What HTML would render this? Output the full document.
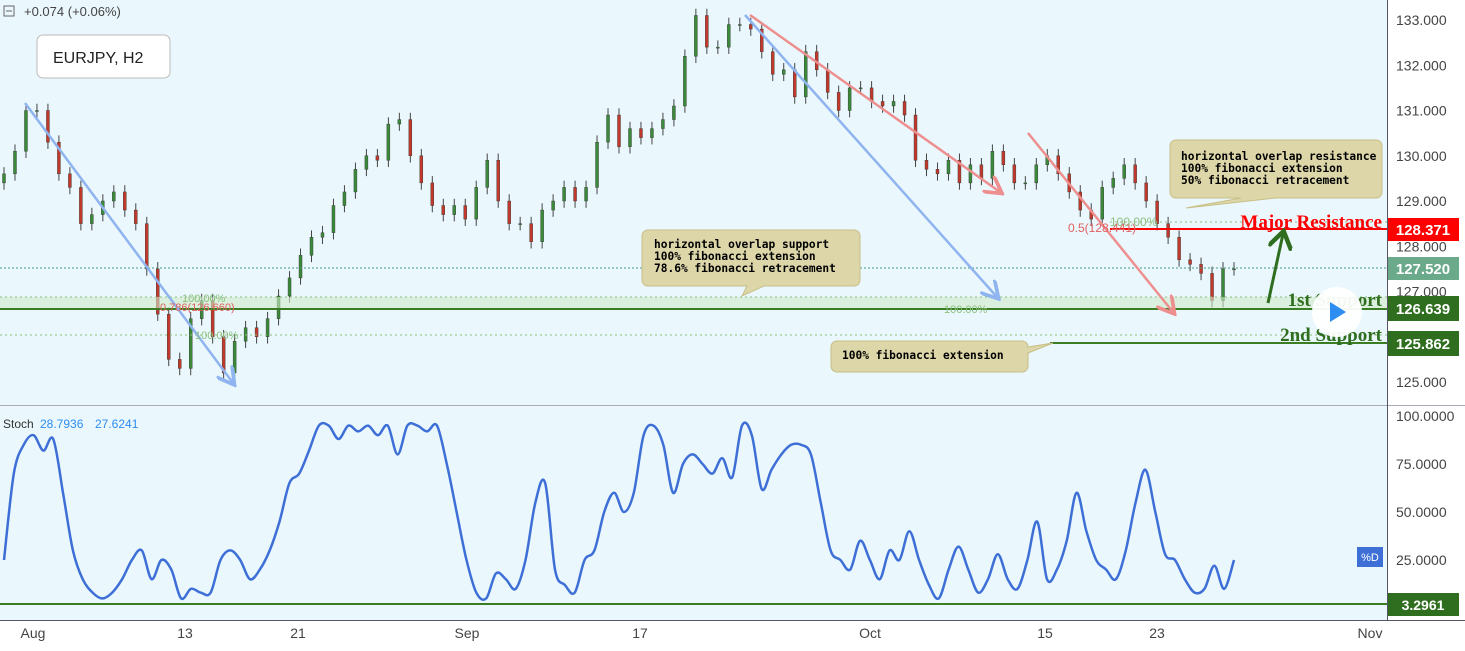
<!DOCTYPE html>
<html><head><meta charset="utf-8"><style>
body{margin:0;background:#fff;font-family:"Liberation Sans",sans-serif}
svg text{font-family:"Liberation Sans",sans-serif}
svg text.serif{font-family:"Liberation Serif",serif}
svg text.mono{font-family:"DejaVu Sans Mono",monospace}
</style></head><body>
<svg id="c" width="1465" height="646" xmlns="http://www.w3.org/2000/svg">
<rect x="0" y="0" width="1387" height="405" fill="#eaf7fd"/>
<rect x="0" y="406" width="1387" height="214" fill="#eaf7fd"/>
<rect x="1387" y="0" width="78" height="620" fill="#fff"/>
<line x1="0" y1="405.5" x2="1465" y2="405.5" stroke="#aab" />
<line x1="1387.5" y1="0" x2="1387.5" y2="620" stroke="#556"/>
<line x1="0" y1="620.5" x2="1465" y2="620.5" stroke="#556"/>
<g id="price"></g>
<g id="stoch"></g>
</svg>
<script>
const closes=[129.6,130.1,131.0,131.0,130.3,129.6,129.3,128.5,128.7,129.0,129.2,128.8,128.5,127.5,126.5,125.5,125.3,126.4,126.8,126.0,125.2,125.9,126.2,126.0,126.4,126.9,127.3,127.8,128.2,128.3,128.9,129.2,129.7,130.0,129.9,130.7,130.8,130.0,129.4,128.9,128.7,128.9,128.6,129.3,129.9,129.0,128.5,128.5,128.1,128.8,129.0,129.3,129.0,129.3,130.3,130.9,130.2,130.6,130.4,130.6,130.8,131.1,132.2,133.1,132.4,132.4,132.9,132.9,132.8,132.3,131.8,131.9,131.3,132.3,131.9,131.4,131.0,131.5,131.5,131.2,131.1,131.2,130.9,129.9,129.7,129.6,129.9,129.4,129.8,129.5,130.1,129.8,129.4,129.4,129.8,130.0,129.6,129.2,128.8,128.6,129.3,129.5,129.8,129.4,129.0,128.5,128.2,127.7,127.6,127.4,126.8,127.5,127.5];
const stochD=[25,70,85,90,82,88,60,30,15,8,5,8,15,25,30,15,25,20,5,10,8,8,25,30,25,15,20,30,45,65,70,82,95,95,88,95,92,95,90,95,80,95,95,92,95,75,50,25,8,5,18,15,10,25,55,65,20,12,8,25,30,50,60,50,60,90,95,85,60,75,80,75,70,78,68,95,90,62,72,80,85,85,80,55,30,25,20,35,25,15,30,25,40,25,12,5,20,32,20,8,15,28,15,10,25,45,15,20,35,60,40,25,20,15,30,55,72,50,28,25,15,8,10,22,10,25];
const priceTicks=[133,132,131,130,129,128,127,125];
const stochTicks=[100,75,50,25];
const dateLabels=["Aug","13","21","Sep","17","Oct","15","23","Nov"];
const datePos=[33,185,298,467,640,870,1045,1157,1370];
const NS="http://www.w3.org/2000/svg";
function py(v){return 20+(133-v)*45.25;}
function sy(v){return 608-v*1.92;}
function mk(tag,at,parent,txt){const e=document.createElementNS(NS,tag);for(const k in at)e.setAttribute(k,at[k]);if(txt!==undefined)e.textContent=txt;parent.appendChild(e);return e;}
const svg=document.getElementById('c'),P=document.getElementById('price'),S=document.getElementById('stoch');
const x0=4,x1=1234;
function px(i,n){return x0+i*(x1-x0)/(n-1);}
priceTicks.forEach(t=>{const e=mk('text',{x:1396,y:py(t)+5,'font-size':14,fill:'#444'},svg,t.toFixed(3));

});
stochTicks.forEach(t=>{const e=mk('text',{x:1396,y:sy(t)+5,'font-size':14,fill:'#444'},svg,t.toFixed(4));

});
dateLabels.forEach((d,i)=>{const e=mk('text',{x:datePos[i],y:638,'font-size':14,fill:'#444','text-anchor':'middle'},svg,d);

});
for(let i=0;i<closes.length;i++){
 const o=i?closes[i-1]:closes[0]-0.2,c=closes[i],x=px(i,closes.length);
 const up=c>=o,col=up?'#3a8a3a':'#c0392b';
 const hi=Math.max(o,c)+0.15,lo=Math.min(o,c)-0.15;
 const w=mk('line',{x1:x,x2:x,y1:py(hi),y2:py(lo),stroke:'#444','stroke-width':1},P);
 
 
 const b=mk('rect',{x:x-1.5,y:py(Math.max(o,c)),width:3,height:Math.max(1,Math.abs(py(o)-py(c))),fill:col,stroke:'#333','stroke-width':0.4},P);
 
 
}
const pts=stochD.map((v,i)=>[px(i,stochD.length),sy(v)]);
let d='M'+pts[0][0]+' '+pts[0][1];
for(let i=0;i<pts.length-1;i++){
 const p0=pts[Math.max(0,i-1)],p1=pts[i],p2=pts[i+1],p3=pts[Math.min(pts.length-1,i+2)];
 const c1=[p1[0]+(p2[0]-p0[0])/6,p1[1]+(p2[1]-p0[1])/6],c2=[p2[0]-(p3[0]-p1[0])/6,p2[1]-(p3[1]-p1[1])/6];
 d+=` C${c1[0].toFixed(1)} ${c1[1].toFixed(1)} ${c2[0].toFixed(1)} ${c2[1].toFixed(1)} ${p2[0].toFixed(1)} ${p2[1].toFixed(1)}`;
}
const sl=mk('path',{d:d,fill:'none',stroke:'#3d6fd6','stroke-width':2.5,'stroke-linejoin':'round'},S);


</script>
<svg style="position:absolute;left:0;top:0" width="1465" height="646" xmlns="http://www.w3.org/2000/svg">
<defs>
<marker id="ab" markerWidth="8" markerHeight="8" refX="6" refY="4" orient="auto"><path d="M0,0 L7,4 L0,8" fill="none" stroke="#8fb4ef" stroke-width="1.5"/></marker>
<marker id="ar" markerWidth="8" markerHeight="8" refX="6" refY="4" orient="auto"><path d="M0,0 L7,4 L0,8" fill="none" stroke="#ee8f8f" stroke-width="1.5"/></marker>
<marker id="ag" markerWidth="8" markerHeight="8" refX="5" refY="4" orient="auto"><path d="M0,0 L6,4 L0,8" fill="none" stroke="#2e6e1e" stroke-width="1.5"/></marker>
</defs>
<rect x="0" y="297" width="1387" height="12" fill="#cfe9c8" opacity="0.6"/>
<line x1="0" y1="309" x2="1387" y2="309" stroke="#3a7d22" stroke-width="2"/>
<line x1="0" y1="297" x2="1387" y2="297" stroke="#8cbf7d" stroke-dasharray="2,3"/>
<line x1="0" y1="335" x2="1387" y2="335" stroke="#8cbf7d" stroke-dasharray="2,3"/>
<line x1="1110" y1="222" x2="1387" y2="222" stroke="#8cbf7d" stroke-dasharray="2,3"/>
<line x1="0" y1="268" x2="1387" y2="268" stroke="#4a9a80" stroke-dasharray="2,2"/>
<line x1="1050" y1="343" x2="1387" y2="343" stroke="#3a7d22" stroke-width="2"/>
<line x1="1110" y1="229" x2="1387" y2="229" stroke="#f00" stroke-width="2"/>
<line x1="0" y1="604" x2="1387" y2="604" stroke="#3a7d22" stroke-width="2"/>
<line x1="25" y1="103" x2="233" y2="383" stroke="#8fb4ef" stroke-width="2.5" marker-end="url(#ab)"/>
<line x1="745" y1="15" x2="997" y2="297" stroke="#8fb4ef" stroke-width="2.5" marker-end="url(#ab)"/>
<line x1="750" y1="15" x2="1000" y2="192" stroke="#ee8f8f" stroke-width="2.5" marker-end="url(#ar)"/>
<line x1="1028" y1="133" x2="1173" y2="312" stroke="#ee8f8f" stroke-width="2.5" marker-end="url(#ar)"/>
<line x1="1268" y1="303" x2="1283" y2="234" stroke="#2e6e1e" stroke-width="3" marker-end="url(#ag)"/>
<text x="182" y="302" font-size="11" fill="#8cbf7d">100.00%</text>
<text x="160" y="311" font-size="11" fill="#e06060">0.786(126.660)</text>
<text x="195" y="339" font-size="11" fill="#8cbf7d">100.00%</text>
<text x="944" y="313" font-size="11" fill="#8cbf7d">100.00%</text>
<text x="1068" y="232" font-size="12" fill="#e06060">0.5(128.441)</text>
<text x="1110" y="226" font-size="12" fill="#8cbf7d">100.00%</text>
<text class="serif" x="1382" y="228" font-size="19" font-weight="bold" fill="#f00" text-anchor="end">Major Resistance</text>
<text class="serif" x="1382" y="306" font-size="19" font-weight="bold" fill="#2e6e1e" text-anchor="end">1st Support</text>
<text class="serif" x="1382" y="341" font-size="19" font-weight="bold" fill="#2e6e1e" text-anchor="end">2nd Support</text>
<circle cx="1337" cy="312" r="25" fill="#fff" opacity="0.95"/>
<path d="M1330,302 L1346,312 L1330,322 Z" fill="#2d8df0"/>
<g>
<path d="M1176,140 h200 a6,6 0 0 1 6,6 v46 a6,6 0 0 1 -6,6 h-100 l-90,10 l55,-10 h-65 a6,6 0 0 1 -6,-6 v-46 a6,6 0 0 1 6,-6z" fill="#dcd6a9" stroke="#c8bf85"/>
<text class="mono" x="1181" y="160" font-size="11.2" font-weight="bold">horizontal overlap resistance</text>
<text class="mono" x="1181" y="172" font-size="11.2" font-weight="bold">100% fibonacci extension</text>
<text class="mono" x="1181" y="184" font-size="11.2" font-weight="bold">50% fibonacci retracement</text>
</g>
<g>
<path d="M648,230 h206 a6,6 0 0 1 6,6 v44 a6,6 0 0 1 -6,6 h-90 l-22,10 l5,-10 h-99 a6,6 0 0 1 -6,-6 v-44 a6,6 0 0 1 6,-6z" fill="#dcd6a9" stroke="#c8bf85"/>
<text class="mono" x="654" y="248" font-size="11.2" font-weight="bold">horizontal overlap support</text>
<text class="mono" x="654" y="260" font-size="11.2" font-weight="bold">100% fibonacci extension</text>
<text class="mono" x="654" y="272" font-size="11.2" font-weight="bold">78.6% fibonacci retracement</text>
</g>
<g>
<path d="M837,341 h185 a6,6 0 0 1 6,6 l25,-4 l-25,10 v13 a6,6 0 0 1 -6,6 h-185 a6,6 0 0 1 -6,-6 v-19 a6,6 0 0 1 6,-6z" fill="#dcd6a9" stroke="#c8bf85"/>
<text class="mono" x="842" y="359" font-size="11.2" font-weight="bold">100% fibonacci extension</text>
</g>
<rect x="37" y="35" width="133" height="43" rx="6" fill="#fff" stroke="#bbb"/>
<text x="53" y="63" font-size="16" fill="#222">EURJPY, H2</text>
<rect x="4" y="6" width="10" height="10" fill="none" stroke="#666"/><line x1="6" y1="11" x2="12" y2="11" stroke="#666"/>
<text x="24" y="16" font-size="13" fill="#444">+0.074 (+0.06%)</text>
<text x="3" y="428" font-size="12" fill="#333">Stoch</text>
<text x="40" y="428" font-size="12" fill="#2d8df0">28.7936</text>
<text x="95" y="428" font-size="12" fill="#2d8df0">27.6241</text>
<rect x="1388" y="218" width="71" height="23" fill="#f00"/>
<text x="1423" y="235" font-size="15" font-weight="bold" fill="#fff" text-anchor="middle">128.371</text>
<rect x="1388" y="257" width="71" height="23" fill="#6aa98a"/>
<text x="1423" y="274" font-size="15" font-weight="bold" fill="#fff" text-anchor="middle">127.520</text>
<rect x="1388" y="296" width="71" height="25" fill="#2e6e1e"/>
<text x="1423" y="314" font-size="15" font-weight="bold" fill="#fff" text-anchor="middle">126.639</text>
<rect x="1388" y="331" width="71" height="25" fill="#2e6e1e"/>
<text x="1423" y="349" font-size="15" font-weight="bold" fill="#fff" text-anchor="middle">125.862</text>
<rect x="1388" y="593" width="71" height="23" fill="#2e6e1e"/>
<text x="1423" y="610" font-size="14" font-weight="bold" fill="#fff" text-anchor="middle">3.2961</text>
<rect x="1357" y="547" width="26" height="20" fill="#3d6fd6"/>
<text x="1370" y="561" font-size="11" fill="#fff" text-anchor="middle">%D</text>
</svg>
</body></html>
